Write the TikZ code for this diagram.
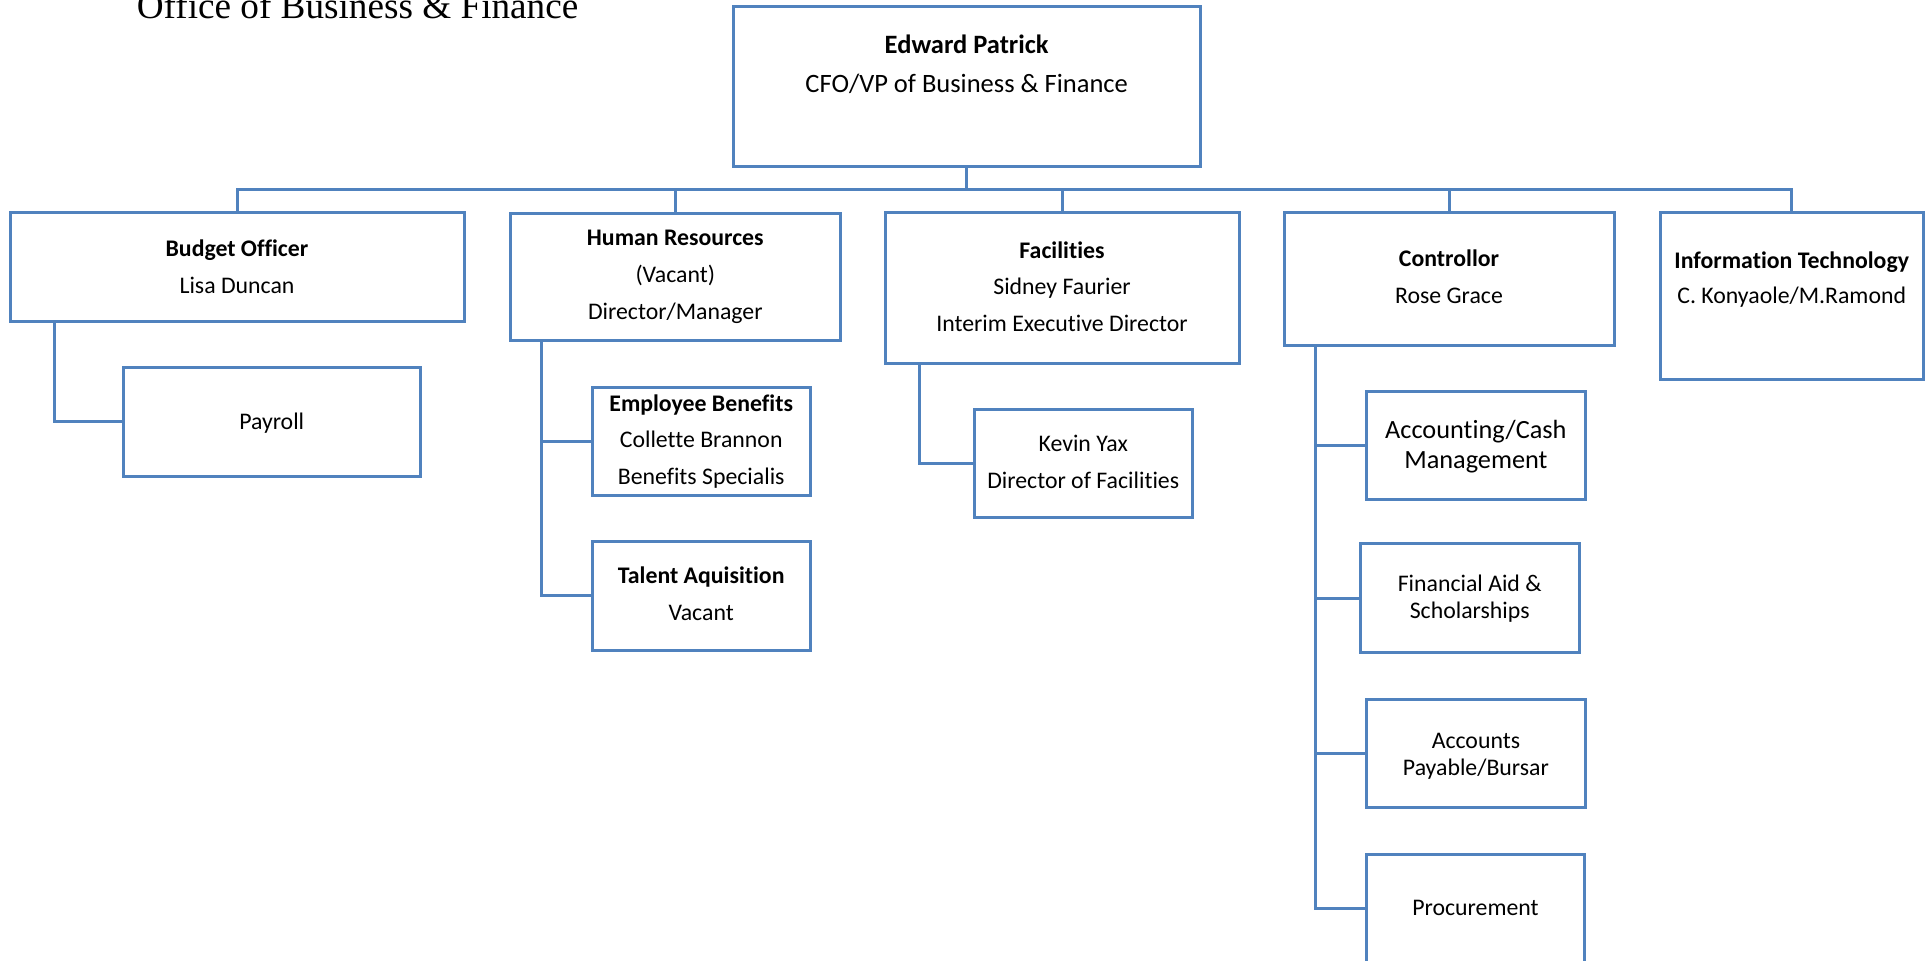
\documentclass[tikz,border=0pt]{standalone}
\usepackage{fontspec}
\setmainfont{Carlito}[Ligatures=CommonOff]
\newfontfamily\timesfont{Liberation Serif}
\definecolor{lineblue}{RGB}{80,130,190}
\tikzset{
  orgbox/.style={draw=lineblue, line width=3pt, rectangle, inner sep=0pt},
  link/.style={draw=lineblue, line width=3pt},
  txt/.style={anchor=base, align=center, inner sep=0pt, font=\fontsize{23.8}{36.5}\selectfont},
}
\newcommand{\obox}[5]{\node[orgbox, minimum width=#4-#2, minimum height=#5-#3] (#1) at ({(#2+#4)/2},{(#3+#5)/2}) {};}
\begin{document}
\begin{tikzpicture}[x=1pt,y=-1pt]
\clip (0,0) rectangle (1931,961);
\fill[white] (0,0) rectangle (1931,961);
% title
\node[anchor=base, inner sep=0pt, font=\timesfont\fontsize{37.2}{40}\selectfont] (title) at (357.6,19) {Office of Business \& Finance};
% boxes
\obox{cfo}{733.3}{6.7}{1200}{166.7}
\obox{budget}{10}{212.7}{464}{321.7}
\obox{hr}{510}{213}{840.5}{340.5}
\obox{fac}{885.3}{212.7}{1239}{363.3}
\obox{ctrl}{1284}{212.7}{1614}{345}
\obox{it}{1660}{212.7}{1923.3}{379}
\obox{payroll}{123.3}{367.3}{420}{476}
\obox{eb}{592.3}{387.3}{810}{495.7}
\obox{ta}{592.3}{541.7}{810}{650}
\obox{kevin}{974}{409}{1192.3}{517.3}
\obox{acc}{1366.7}{391}{1585}{499.5}
\obox{fin}{1360.3}{543.5}{1579}{652.7}
\obox{ap}{1366.7}{699.3}{1585}{807.4}
\obox{proc}{1366.7}{854}{1584.3}{962.6}
% texts (anchor base = baseline of last line)
\node[txt, font=\fontsize{26.5}{39.4}\selectfont] (cfo-t) at (966.7,92.7) {\textbf{Edward Patrick}\\CFO/VP of Business \& Finance};
\node[txt] (budget-t) at (237,293.3) {\textbf{Budget Officer}\\Lisa Duncan};
\node[txt, font=\fontsize{23.8}{36.8}\selectfont] (hr-t) at (675.3,319.3) {\textbf{Human Resources}\\(Vacant)\\Director/Manager};
\node[txt, font=\fontsize{23.8}{36.4}\selectfont] (fac-t) at (1062,331) {\textbf{Facilities}\\Sidney Faurier\\Interim Executive Director};
\node[txt, font=\fontsize{23.8}{36.3}\selectfont] (ctrl-t) at (1449,303) {\textbf{Controllor}\\Rose Grace};
\node[txt, font=\fontsize{23.8}{35}\selectfont] (it-t) at (1791.7,303.3) {\textbf{Information Technology}\\C. Konyaole/M.Ramond};
\node[txt] (payroll-t) at (271.7,429) {Payroll};
\node[txt, font=\fontsize{23.8}{36.2}\selectfont] (eb-t) at (701.2,484) {\textbf{Employee Benefits}\\Collette Brannon\\Benefits Specialis};
\node[txt, font=\fontsize{23.8}{37.7}\selectfont] (ta-t) at (701.2,620.7) {\textbf{Talent Aquisition}\\Vacant};
\node[txt, font=\fontsize{23.8}{36.6}\selectfont] (kevin-t) at (1083.2,488.3) {Kevin Yax\\Director of Facilities};
\node[txt, font=\fontsize{26.3}{30.3}\selectfont] (acc-t) at (1475.9,468.8) {Accounting/Cash\\Management};
\node[txt, font=\fontsize{23.8}{27}\selectfont] (fin-t) at (1469.7,618.6) {Financial Aid \&\\Scholarships};
\node[txt, font=\fontsize{23.8}{27}\selectfont] (ap-t) at (1475.9,775.9) {Accounts\\Payable/Bursar};
\node[txt] (proc-t) at (1475.5,915.7) {Procurement};
% connectors
\coordinate (bus) at (0,189);
\draw[link] (cfo.south) -- (cfo.south |- bus);
\draw[link] (budget.north) -- (budget.north |- bus) -- (it.north |- bus) -- (it.north);
\draw[link] (hr.north) -- (hr.north |- bus);
\draw[link] (fac.north) -- (fac.north |- bus);
\draw[link] (ctrl.north) -- (ctrl.north |- bus);
\coordinate (budget-trunk) at ([xshift=45.7pt]budget.south west);
\draw[link] (budget-trunk) |- (payroll.west);
\coordinate (hr-trunk) at ([xshift=32.7pt]hr.south west);
\draw[link] (hr-trunk) |- (ta.west);
\draw[link] (eb.west) -- (eb.west -| hr-trunk);
\coordinate (fac-trunk) at ([xshift=35.7pt]fac.south west);
\draw[link] (fac-trunk) |- (kevin.west);
\coordinate (ctrl-trunk) at ([xshift=33.3pt]ctrl.south west);
\draw[link] (ctrl-trunk) |- (proc.west);
\draw[link] (acc.west) -- (acc.west -| ctrl-trunk);
\draw[link] (fin.west) -- (fin.west -| ctrl-trunk);
\draw[link] (ap.west) -- (ap.west -| ctrl-trunk);
\end{tikzpicture}
\end{document}
